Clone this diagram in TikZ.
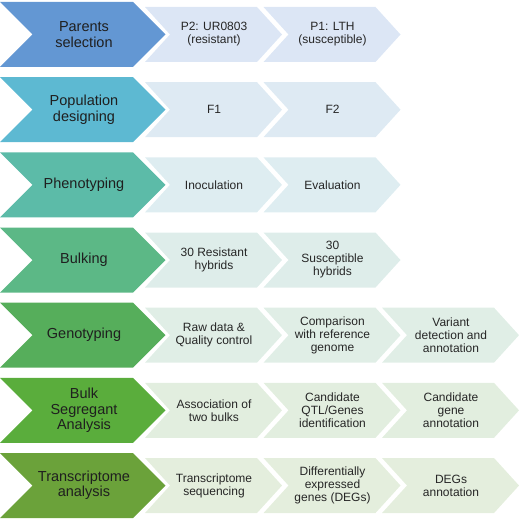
\documentclass[tikz,border=0pt]{standalone}
\usepackage{fontspec}
\setmainfont{Liberation Sans}
\usepackage{xcolor}
\definecolor{parentsdark}{HTML}{6397D3}
\definecolor{popdark}{HTML}{5DB9D2}
\definecolor{phenodark}{HTML}{5CBBA8}
\definecolor{bulkdark}{HTML}{5CB886}
\definecolor{genodark}{HTML}{56AE5B}
\definecolor{bsadark}{HTML}{5AAD3C}
\definecolor{transdark}{HTML}{6BA23A}
\definecolor{parentslight}{HTML}{DCE6F5}
\definecolor{poplight}{HTML}{DEEAF3}
\definecolor{phenolight}{HTML}{DEEDF1}
\definecolor{bulklight}{HTML}{DEEDEA}
\definecolor{genolight}{HTML}{E0EEE6}
\definecolor{bsalight}{HTML}{E2EEDF}
\definecolor{translight}{HTML}{E4EEDD}
\tikzset{
  biglabel/.style={font=\fontsize{14.5}{15.3}\selectfont, align=center, text=black!88, inner sep=1pt},
  smalllabel/.style={font=\fontsize{12}{13}\selectfont, align=center, text=black!85, inner sep=1pt}
}

\begin{document}
\begin{tikzpicture}[x=1pt, y=-1pt]
  \useasboundingbox (0,0) rectangle (520,521);

  % main stages
  \foreach \r/\c/\t in {0/parentsdark/{Parents\\selection},
      1/popdark/{Population\\designing},
      2/phenodark/{Phenotyping},
      3/bulkdark/{Bulking},
      4/genodark/{Genotyping},
      5/bsadark/{Bulk\\Segregant\\Analysis},
      6/transdark/{Transcriptome\\analysis}}{
    \pgfmathsetmacro{\rowtop}{2+75.17*\r}
    \fill[\c] (0,\rowtop) -- ++(133,0) -- ++(32.5,32.5) -- ++(-32.5,32.5)
      -- ++(-133,0) -- ++(32.5,-32.5) -- cycle;
    \node[biglabel] (stage\r) at (84,\rowtop+32.5) {\t};
  }

  % sub-steps
  \foreach \r/\k/\c/\t in {0/0/parentslight/{P2: UR0803\\(resistant)},
      0/1/parentslight/{P1: LTH\\(susceptible)},
      1/0/poplight/{F1},
      1/1/poplight/{F2},
      2/0/phenolight/{Inoculation},
      2/1/phenolight/{Evaluation},
      3/0/bulklight/{30 Resistant\\hybrids},
      3/1/bulklight/{30\\Susceptible\\hybrids},
      4/0/genolight/{Raw data \&\\Quality control},
      4/1/genolight/{Comparison\\with reference\\genome},
      4/2/genolight/{Variant\\detection and\\annotation},
      5/0/bsalight/{Association of\\two bulks},
      5/1/bsalight/{Candidate\\QTL/Genes\\identification},
      5/2/bsalight/{Candidate\\gene\\annotation},
      6/0/translight/{Transcriptome\\sequencing},
      6/1/translight/{Differentially\\expressed\\genes (DEGs)},
      6/2/translight/{DEGs\\annotation}}{
    \pgfmathsetmacro{\rowtop}{2+75.17*\r}
    \pgfmathsetmacro{\colleft}{145+118.5*\k}
    \fill[\c] (\colleft,\rowtop+5) -- ++(112,0) -- ++(25,27.5) -- ++(-25,27.5)
      -- ++(-112,0) -- ++(25,-27.5) -- cycle;
    \node[smalllabel] (step\r-\k) at (\colleft+69,\rowtop+32.5) {\t};
  }
\end{tikzpicture}
\end{document}
